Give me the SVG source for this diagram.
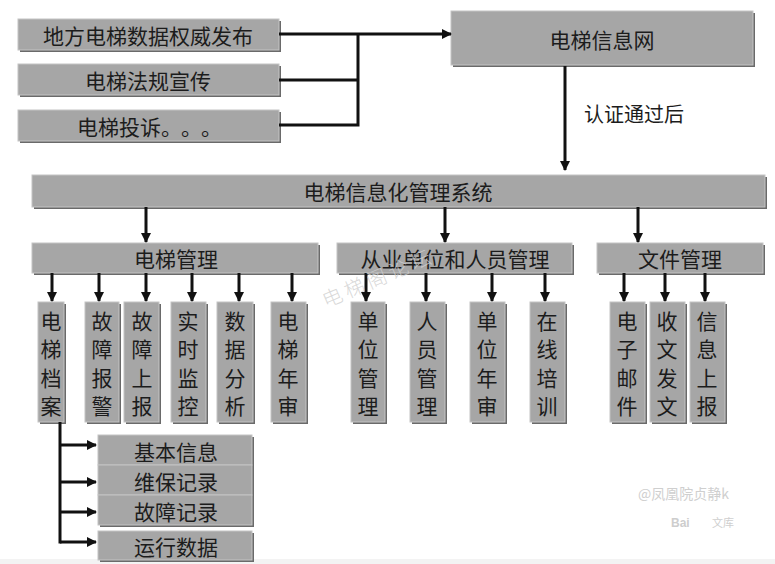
<svg xmlns="http://www.w3.org/2000/svg" width="775" height="564" viewBox="0 0 775 564">
<style>
.sh{fill:#6a6a6a}
.bx{fill:#a6a6a6;stroke:#c4c4c4;stroke-width:1}
.t{font-family:"Noto Sans CJK SC","Noto Sans CJK JP",sans-serif;fill:#1c1c1c;text-anchor:middle;dominant-baseline:central}
.ln{stroke:#111;stroke-width:3;fill:none}
.ar{stroke:#111;stroke-width:3;fill:none;marker-end:url(#ah)}
.wm{font-family:"Noto Sans CJK SC",sans-serif;fill:#cfcfcf}
</style>
<defs>
<marker id="ah" markerUnits="userSpaceOnUse" markerWidth="10" markerHeight="10" refX="9" refY="5" orient="auto">
<path d="M0,0 L10,5 L0,10 z" fill="#111"/>
</marker>
</defs>
<rect width="775" height="564" fill="#fff"/>
<rect x="0" y="559" width="775" height="5" fill="#f3f3f3"/>

<g id="n-local">
<rect class="sh" x="20" y="21" width="261" height="31"/>
<rect class="bx" x="18" y="19" width="261" height="31"/>
<text class="t" x="148" y="35" font-size="21">地方电梯数据权威发布</text>
</g>
<g id="n-law">
<rect class="sh" x="20" y="66" width="261" height="31"/>
<rect class="bx" x="18" y="64" width="261" height="31"/>
<text class="t" x="148" y="80" font-size="21">电梯法规宣传</text>
</g>
<g id="n-complaint">
<rect class="sh" x="20" y="112" width="261" height="31"/>
<rect class="bx" x="18" y="110" width="261" height="31"/>
<text class="t" y="126" font-size="21" style="text-anchor:start"><tspan x="77">电梯投诉</tspan><tspan x="161">。</tspan><tspan x="181">。</tspan><tspan x="201">。</tspan></text>
</g>
<g id="n-net">
<rect class="sh" x="453" y="13" width="302" height="54"/>
<rect class="bx" x="451" y="11" width="302" height="54"/>
<text class="t" x="602" y="39" font-size="21">电梯信息网</text>
</g>
<text class="t" x="634" y="113" font-size="20">认证通过后</text>

<g id="n-system">
<rect class="sh" x="34" y="177" width="733" height="32"/>
<rect class="bx" x="32" y="175" width="733" height="32"/>
<text class="t" x="398" y="191" font-size="21">电梯信息化管理系统</text>
</g>
<g id="n-elev">
<rect class="sh" x="34" y="245" width="286" height="30"/>
<rect class="bx" x="32" y="243" width="286" height="30"/>
<text class="t" x="176" y="258" font-size="21">电梯管理</text>
</g>
<g id="n-staff">
<rect class="sh" x="339" y="245" width="235" height="30"/>
<rect class="bx" x="337" y="243" width="235" height="30"/>
<text class="t" x="455" y="258" font-size="21">从业单位和人员管理</text>
</g>
<g id="n-file">
<rect class="sh" x="599" y="245" width="166" height="30"/>
<rect class="bx" x="597" y="243" width="166" height="30"/>
<text class="t" x="680" y="258" font-size="21">文件管理</text>
</g>

<g id="v-archive"><rect class="sh" x="40" y="304" width="26" height="120"/><rect class="bx" x="38" y="302" width="26" height="120"/>
<text class="t" font-size="21" x="51"><tspan x="51" y="320">电</tspan><tspan x="51" y="348">梯</tspan><tspan x="51" y="377">档</tspan><tspan x="51" y="405">案</tspan></text></g>
<g id="v-alarm"><rect class="sh" x="87" y="304" width="34" height="120"/><rect class="bx" x="85" y="302" width="34" height="120"/>
<text class="t" font-size="21"><tspan x="102" y="320">故</tspan><tspan x="102" y="348">障</tspan><tspan x="102" y="377">报</tspan><tspan x="102" y="405">警</tspan></text></g>
<g id="v-report"><rect class="sh" x="126" y="304" width="35" height="120"/><rect class="bx" x="124" y="302" width="35" height="120"/>
<text class="t" font-size="21"><tspan x="142" y="320">故</tspan><tspan x="142" y="348">障</tspan><tspan x="142" y="377">上</tspan><tspan x="142" y="405">报</tspan></text></g>
<g id="v-monitor"><rect class="sh" x="173" y="304" width="35" height="120"/><rect class="bx" x="171" y="302" width="35" height="120"/>
<text class="t" font-size="21"><tspan x="188" y="320">实</tspan><tspan x="188" y="348">时</tspan><tspan x="188" y="377">监</tspan><tspan x="188" y="405">控</tspan></text></g>
<g id="v-analysis"><rect class="sh" x="219" y="304" width="36" height="120"/><rect class="bx" x="217" y="302" width="36" height="120"/>
<text class="t" font-size="21"><tspan x="235" y="320">数</tspan><tspan x="235" y="348">据</tspan><tspan x="235" y="377">分</tspan><tspan x="235" y="405">析</tspan></text></g>
<g id="v-annual"><rect class="sh" x="273" y="304" width="35" height="120"/><rect class="bx" x="271" y="302" width="35" height="120"/>
<text class="t" font-size="21"><tspan x="288" y="320">电</tspan><tspan x="288" y="348">梯</tspan><tspan x="288" y="377">年</tspan><tspan x="288" y="405">审</tspan></text></g>

<g id="v-unit"><rect class="sh" x="353" y="304" width="34" height="120"/><rect class="bx" x="351" y="302" width="34" height="120"/>
<text class="t" font-size="21"><tspan x="368" y="320">单</tspan><tspan x="368" y="348">位</tspan><tspan x="368" y="377">管</tspan><tspan x="368" y="405">理</tspan></text></g>
<g id="v-person"><rect class="sh" x="412" y="304" width="35" height="120"/><rect class="bx" x="410" y="302" width="35" height="120"/>
<text class="t" font-size="21"><tspan x="427" y="320">人</tspan><tspan x="427" y="348">员</tspan><tspan x="427" y="377">管</tspan><tspan x="427" y="405">理</tspan></text></g>
<g id="v-unitannual"><rect class="sh" x="472" y="304" width="35" height="120"/><rect class="bx" x="470" y="302" width="35" height="120"/>
<text class="t" font-size="21"><tspan x="487" y="320">单</tspan><tspan x="487" y="348">位</tspan><tspan x="487" y="377">年</tspan><tspan x="487" y="405">审</tspan></text></g>
<g id="v-train"><rect class="sh" x="532" y="304" width="35" height="120"/><rect class="bx" x="530" y="302" width="35" height="120"/>
<text class="t" font-size="21"><tspan x="547" y="320">在</tspan><tspan x="547" y="348">线</tspan><tspan x="547" y="377">培</tspan><tspan x="547" y="405">训</tspan></text></g>

<g id="v-email"><rect class="sh" x="612" y="304" width="35" height="120"/><rect class="bx" x="610" y="302" width="35" height="120"/>
<text class="t" font-size="21"><tspan x="627" y="320">电</tspan><tspan x="627" y="348">子</tspan><tspan x="627" y="377">邮</tspan><tspan x="627" y="405">件</tspan></text></g>
<g id="v-doc"><rect class="sh" x="652" y="304" width="35" height="120"/><rect class="bx" x="650" y="302" width="35" height="120"/>
<text class="t" font-size="21"><tspan x="667" y="320">收</tspan><tspan x="667" y="348">文</tspan><tspan x="667" y="377">发</tspan><tspan x="667" y="405">文</tspan></text></g>
<g id="v-info"><rect class="sh" x="692" y="304" width="35" height="120"/><rect class="bx" x="690" y="302" width="35" height="120"/>
<text class="t" font-size="21"><tspan x="707" y="320">信</tspan><tspan x="707" y="348">息</tspan><tspan x="707" y="377">上</tspan><tspan x="707" y="405">报</tspan></text></g>

<g id="s-basic"><rect class="sh" x="100" y="437" width="154" height="30"/><rect class="bx" x="98" y="435" width="154" height="30"/>
<text class="t" x="176" y="451" font-size="21">基本信息</text></g>
<g id="s-maint"><rect class="sh" x="100" y="467" width="154" height="30"/><rect class="bx" x="98" y="465" width="154" height="30"/>
<text class="t" x="176" y="481" font-size="21">维保记录</text></g>
<g id="s-fault"><rect class="sh" x="100" y="497" width="154" height="30"/><rect class="bx" x="98" y="495" width="154" height="30"/>
<text class="t" x="176" y="511" font-size="21">故障记录</text></g>
<g id="s-run"><rect class="sh" x="100" y="533" width="154" height="29"/><rect class="bx" x="98" y="531" width="154" height="29"/>
<text class="t" x="176" y="546" font-size="21">运行数据</text></g>

<g id="connectors">
<path class="ar" d="M279,34 H451"/>
<path class="ln" d="M279,80 H358 M279,125 H358 M358,34 V126.5"/>
<path class="ar" d="M565,66 V170"/>
<path class="ar" d="M146,207 V242"/>
<path class="ar" d="M445,207 V242"/>
<path class="ar" d="M638,207 V242"/>
<path class="ar" d="M52,273 V301"/>
<path class="ar" d="M99,273 V301"/>
<path class="ar" d="M146,273 V301"/>
<path class="ar" d="M192,273 V301"/>
<path class="ar" d="M239,273 V301"/>
<path class="ar" d="M292,273 V301"/>
<path class="ar" d="M366,273 V301"/>
<path class="ar" d="M426,273 V301"/>
<path class="ar" d="M492,273 V301"/>
<path class="ar" d="M545,273 V301"/>
<path class="ar" d="M624,273 V301"/>
<path class="ar" d="M665,273 V301"/>
<path class="ar" d="M705,273 V301"/>
<path class="ln" d="M60,422 V543.5"/>
<path class="ar" d="M60,445 H96"/>
<path class="ar" d="M60,482 H96"/>
<path class="ar" d="M60,512 H96"/>
<path class="ar" d="M60,542 H96"/>
</g>

<text class="wm" font-size="20" font-weight="300" letter-spacing="4" transform="translate(326,308) rotate(-23)" fill="#c4c4c4" fill-opacity="0.8">电梯阁论坛</text>
<text class="wm" x="638" y="499" font-size="14" fill="#c6c6c6">@凤凰院贞静k</text>
<text x="671" y="527" font-size="12" font-family="Liberation Sans,sans-serif" font-weight="bold" fill="#cdcdcd">Bai</text>
<text class="wm" x="712" y="527" font-size="11" fill="#cdcdcd">文库</text>
</svg>
